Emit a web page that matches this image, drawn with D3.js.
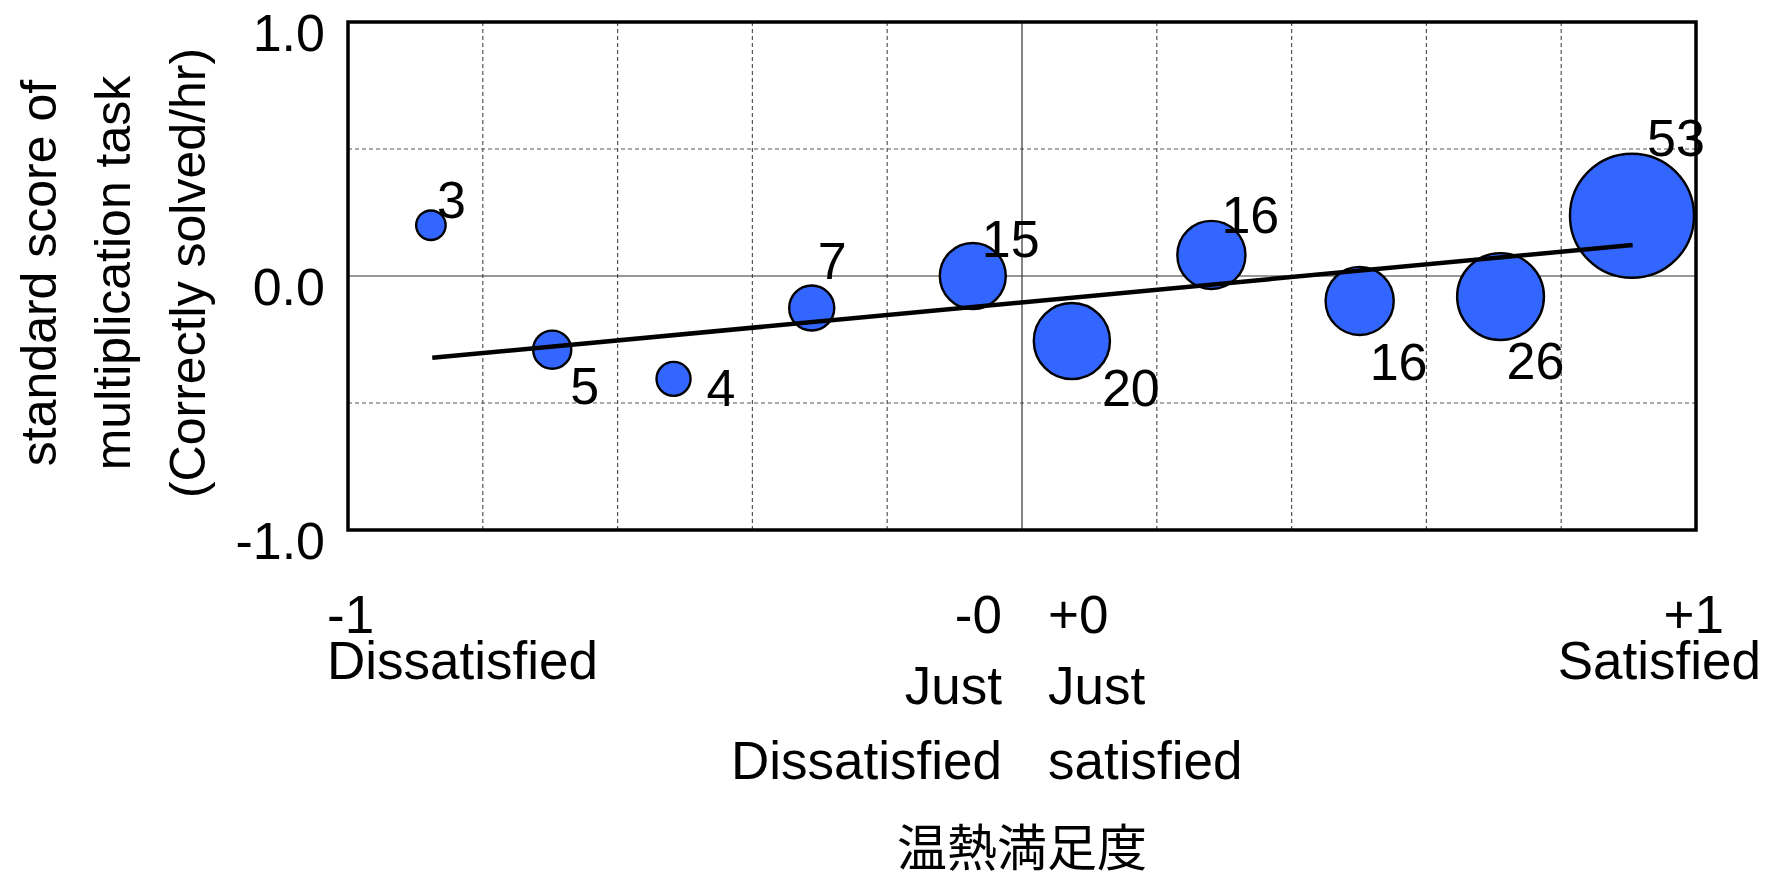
<!DOCTYPE html>
<html>
<head>
<meta charset="utf-8">
<script src="https://cdn.jsdelivr.net/npm/d3@7"></script>
<style>
  html, body { margin: 0; padding: 0; background: #fff; }
  svg text { font-family: "Liberation Sans", Arial, sans-serif; fill: #000; }
  .cjk { font-family: "Noto Sans CJK JP", sans-serif; }
</style>
</head>
<body>
<div id="chart"></div>
<script>
// thermal satisfaction vs. task score, bubble size = number of votes
const satisfaction = [-0.877, -0.697, -0.517, -0.312, -0.073, 0.074, 0.281, 0.501, 0.710, 0.905];
const taskScore = [0.20, -0.29, -0.405, -0.126, 0.0, -0.256, 0.083, -0.098, -0.081, 0.237];
const votes = [3, 5, 4, 7, 15, 20, 16, 16, 26, 53];

// regression line end points
const fitX = [-0.875, 0.906];
const fitY = [-0.322, 0.122];

const yTicks = [-1, 0, 1];
const yTickLabels = ["-1.0", "0.0", "1.0"];
const yGrid = [-0.5, 0.5];
const xGrid = [-0.8, -0.6, -0.4, -0.2, 0.2, 0.4, 0.6, 0.8];

const yTitle = ["standard score of", "multiplication task", "(Correctly solved/hr)"];
const xTitle = "温熱満足度";

const width = 1781, height = 883;
const margin = { top: 22, right: 85, bottom: 353, left: 348 };

const x = d3.scaleLinear().domain([-1, 1]).range([margin.left, width - margin.right]);
const y = d3.scaleLinear().domain([-1, 1]).range([height - margin.bottom, margin.top]);
const r = d3.scaleSqrt().domain([0, 53]).range([0, 62]);

const svg = d3.select("#chart")
  .append("svg")
  .attr("width", width)
  .attr("height", height);

// dashed grid
svg.append("g")
  .selectAll("line")
  .data(xGrid)
  .join("line")
  .attr("x1", (d) => x(d))
  .attr("x2", (d) => x(d))
  .attr("y1", y(1))
  .attr("y2", y(-1))
  .attr("stroke", "#555")
  .attr("stroke-width", 1.2)
  .attr("stroke-dasharray", "4,3");

svg.append("g")
  .selectAll("line")
  .data(yGrid)
  .join("line")
  .attr("x1", x(-1))
  .attr("x2", x(1))
  .attr("y1", (d) => y(d))
  .attr("y2", (d) => y(d))
  .attr("stroke", "#555")
  .attr("stroke-width", 1.2)
  .attr("stroke-dasharray", "4,3");

// zero lines
svg.append("line")
  .attr("x1", x(0)).attr("x2", x(0))
  .attr("y1", y(1)).attr("y2", y(-1))
  .attr("stroke", "#333").attr("stroke-width", 1.2);
svg.append("line")
  .attr("x1", x(-1)).attr("x2", x(1))
  .attr("y1", y(0)).attr("y2", y(0))
  .attr("stroke", "#333").attr("stroke-width", 1.2);

// frame
svg.append("rect")
  .attr("x", x(-1))
  .attr("y", y(1))
  .attr("width", x(1) - x(-1))
  .attr("height", y(-1) - y(1))
  .attr("fill", "none")
  .attr("stroke", "#000")
  .attr("stroke-width", 3.5);

// y tick labels
svg.append("g")
  .selectAll("text")
  .data(yTicks)
  .join("text")
  .attr("x", margin.left - 23)
  .attr("y", (d) => y(d) + 29)
  .attr("text-anchor", "end")
  .attr("font-size", 52)
  .text((d, i) => yTickLabels[i]);

// y title, rotated
const yTitleBase = [56, 130, 205];
svg.append("g")
  .selectAll("text")
  .data(yTitle)
  .join("text")
  .attr("transform", (d, i) => `translate(${yTitleBase[i]},${y(0) - 3}) rotate(-90)`)
  .attr("text-anchor", "middle")
  .attr("font-size", 50)
  .text((d) => d);

// regression line
const fit = svg.append("line")
  .attr("x1", x(fitX[0])).attr("y1", y(fitY[0]))
  .attr("x2", x(fitX[1])).attr("y2", y(fitY[1]))
  .attr("stroke", "#000")
  .attr("stroke-width", 4.5);

const points = satisfaction.map((s, i) => ({ s, score: taskScore[i], n: votes[i] }));

// bubbles
svg.append("g")
  .selectAll("circle")
  .data(points)
  .join("circle")
  .attr("cx", (d) => x(d.s))
  .attr("cy", (d) => y(d.score))
  .attr("r", (d) => r(d.n))
  .attr("fill", "#3366ff")
  .attr("stroke", "#000")
  .attr("stroke-width", 2.4);

// fit goes on top of the bubbles
fit.raise();

// count labels, nudged by hand like the original
const labelNudge = [
  [6, -7], [18, 54], [33, 27], [6, -29], [9, -19],
  [30, 65], [10, -22], [10, 79], [6, 82], [15, -60]
];
svg.append("g")
  .selectAll("text")
  .data(points)
  .join("text")
  .attr("x", (d, i) => x(d.s) + labelNudge[i][0])
  .attr("y", (d, i) => y(d.score) + labelNudge[i][1])
  .attr("font-size", 52)
  .text((d) => d.n);

// x category labels
const xLabels = [
  { lines: ["-1", "Dissatisfied"], base: [633, 679], x: [x(-1) - 21, x(-1) - 21], anchor: "start" },
  { lines: ["-0", "Just", "Dissatisfied"], base: [633, 704, 779], x: [x(0) - 20, x(0) - 20, x(0) - 20], anchor: "end" },
  { lines: ["+0", "Just", "satisfied"], base: [633, 704, 779], x: [x(0) + 26, x(0) + 26, x(0) + 26], anchor: "start" },
  { lines: ["+1", "Satisfied"], base: [633, 679], x: [x(1) + 28, x(1) + 65], anchor: "end" }
];
xLabels.forEach((lab) => {
  svg.append("g")
    .selectAll("text")
    .data(lab.lines)
    .join("text")
    .attr("x", (d, i) => lab.x[i])
    .attr("y", (d, i) => lab.base[i])
    .attr("text-anchor", lab.anchor)
    .attr("font-size", 53)
    .text((d) => d);
});

svg.append("text")
  .attr("class", "cjk")
  .attr("x", x(0))
  .attr("y", 866)
  .attr("text-anchor", "middle")
  .attr("font-size", 50)
  .text(xTitle);
</script>
</body>
</html>
